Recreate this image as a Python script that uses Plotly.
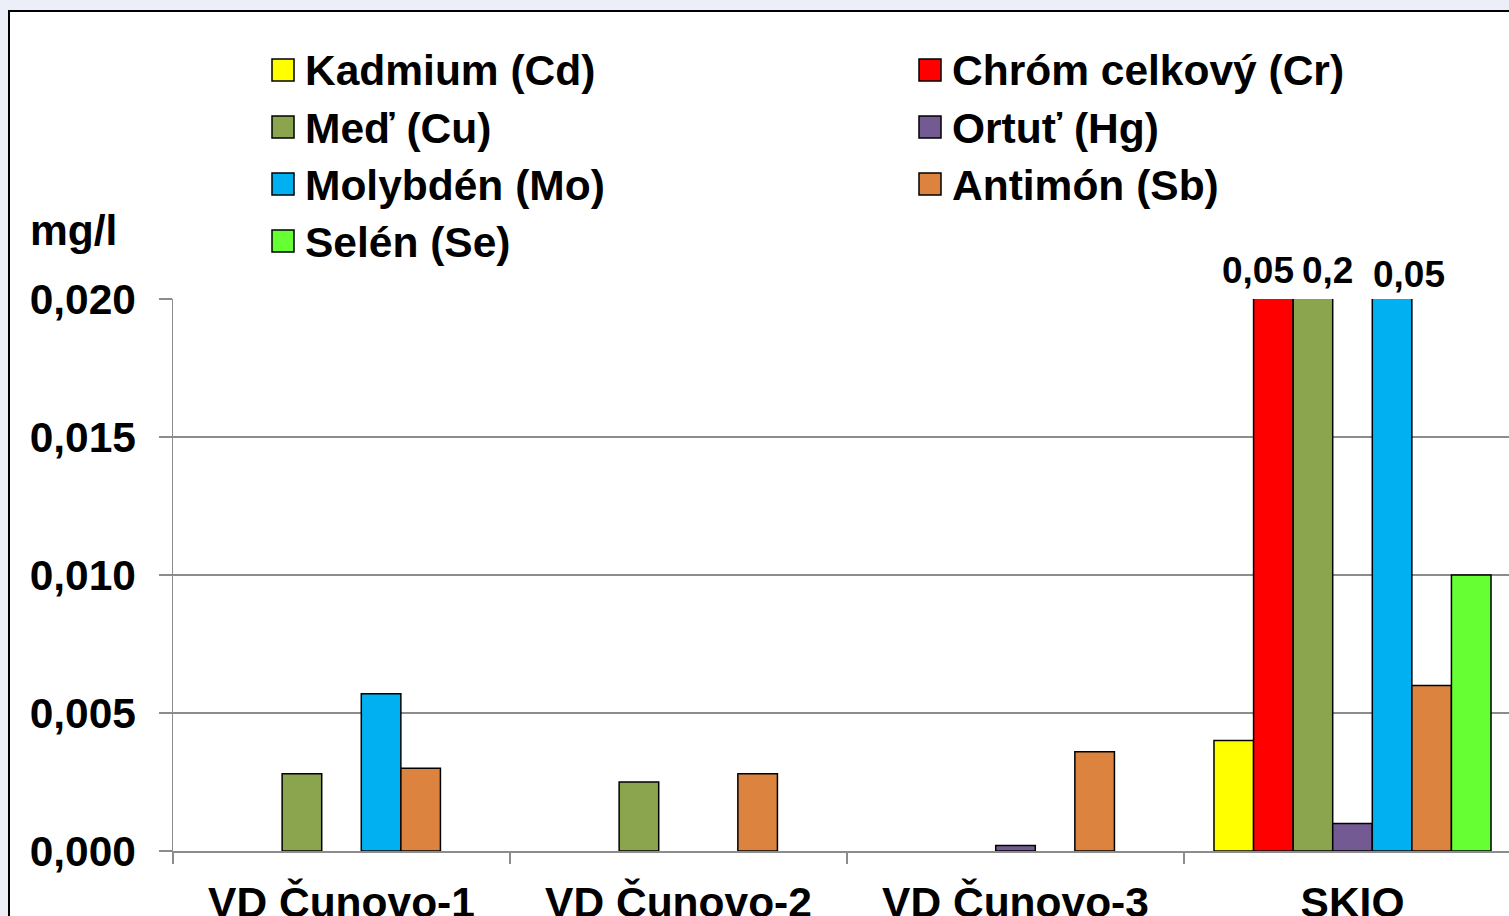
import plotly.graph_objects as go

# ---- data ----
categories = ["VD Čunovo-1", "VD Čunovo-2", "VD Čunovo-3", "SKIO"]
series_names = ["Kadmium (Cd)", "Chróm celkový (Cr)", "Meď (Cu)", "Ortuť (Hg)",
                "Molybdén (Mo)", "Antimón (Sb)", "Selén (Se)"]
series_colors = ["#FFFF00", "#FF0000", "#8BA54E", "#735A93", "#00B0F0", "#DC843F", "#66FF33"]
cd = [None, None, None, 0.004]
cr = [None, None, None, 0.05]
cu = [0.0028, 0.0025, None, 0.2]
hg = [None, None, 0.0002, 0.001]
mo = [0.0057, None, None, 0.05]
sb = [0.0030, 0.0028, 0.0036, 0.006]
se = [None, None, None, 0.010]
series_values = [cd, cr, cu, hg, mo, sb, se]
# values of bars exceeding the axis (labelled above the clipped bars)
over_labels = ["0,05", "0,2", "0,05"]
y_ticks = [0.0, 0.005, 0.010, 0.015, 0.020]

W, H = 1509, 916
L, R, T, B = 173, 1509, 299, 851
FONT = "Liberation Sans, Arial, sans-serif"
FS = 42.5
BG = "#ECEFF8"


def px(x):
    return (x - L) / (R - L)


def py(y):
    return (B - y) / (B - T)


fig = go.Figure()
for name, vals, col in zip(series_names, series_values, series_colors):
    fig.add_trace(go.Bar(
        x=categories, y=vals, name=name,
        marker=dict(color=col, line=dict(color="black", width=1.5)),
        showlegend=False, hoverinfo="skip",
    ))

# frame
fig.add_shape(type="rect", xref="paper", yref="paper",
              x0=px(9), x1=px(1540), y0=py(11), y1=py(940),
              line=dict(color="black", width=2), fillcolor="white", layer="below")

# legend (two columns)
legend_cols = [[0, 2, 4, 6], [1, 3, 5]]
col_x = [272, 919]
row_y = [70, 127, 184, 241]
for ci, idxs in enumerate(legend_cols):
    for ri, si in enumerate(idxs):
        x0 = col_x[ci]
        yc = row_y[ri]
        fig.add_shape(type="rect", xref="paper", yref="paper",
                      x0=px(x0), x1=px(x0 + 22), y0=py(yc - 11), y1=py(yc + 11),
                      line=dict(color="black", width=1.5), fillcolor=series_colors[si])
        fig.add_annotation(xref="paper", yref="paper", x=px(x0 + 31), y=py(yc + 1),
                           xanchor="left", yanchor="middle", showarrow=False,
                           text=series_names[si],
                           font=dict(family=FONT, size=FS, color="black", weight="bold"))

# y unit label
fig.add_annotation(xref="paper", yref="paper", x=px(28), y=py(230),
                   xanchor="left", yanchor="middle", showarrow=False, text="mg/l",
                   font=dict(family=FONT, size=FS, color="black", weight="bold"))

# labels for off-scale bars
for txt, xs, ys in zip(over_labels, [-95, -25, 56], [29, 29, 25]):
    fig.add_annotation(x=categories[3], y=y_ticks[-1], xref="x", yref="y",
                       xshift=xs, yshift=ys, showarrow=False, text=txt,
                       xanchor="center", yanchor="middle",
                       font=dict(family=FONT, size=37, color="black", weight="bold"))

grey = "#8C8C8C"
fig.update_layout(
    width=W, height=H, autosize=False,
    margin=dict(l=L, r=W - R, t=T, b=H - B, pad=0),
    paper_bgcolor=BG, plot_bgcolor="rgba(0,0,0,0)",
    barmode="group", bargap=0.178, bargroupgap=0,
    separators=", ",
    font=dict(family=FONT, size=FS, color="black", weight="bold"),
    showlegend=False, hovermode=False,
    xaxis=dict(type="category", range=[-0.5, 3.5 - 12 / 337], automargin=False,
               showline=True, linecolor=grey, linewidth=1.5,
               ticks="outside", tickson="boundaries", ticklen=11, tickwidth=1.5,
               tickcolor=grey, showgrid=False, ticklabelstandoff=13,
               tickfont=dict(family=FONT, size=FS, color="black", weight="bold")),
    yaxis=dict(range=[0, 0.02], tickvals=y_ticks, tickformat=".3f", automargin=False,
               showline=True, linecolor=grey, linewidth=1.5,
               ticks="outside", ticklen=13, tickwidth=1.5, tickcolor=grey,
               showgrid=True, gridcolor=grey, gridwidth=1.5, zeroline=False,
               ticklabelstandoff=14,
               tickfont=dict(family=FONT, size=FS, color="black", weight="bold")),
)

fig.write_html(
    "out.html",
    config={"displayModeBar": False, "staticPlot": True},
    post_script="document.body.style.margin='0';document.body.style.padding='0';"
                "document.body.style.background='" + BG + "';"
                "document.documentElement.style.overflow='hidden';",
)
